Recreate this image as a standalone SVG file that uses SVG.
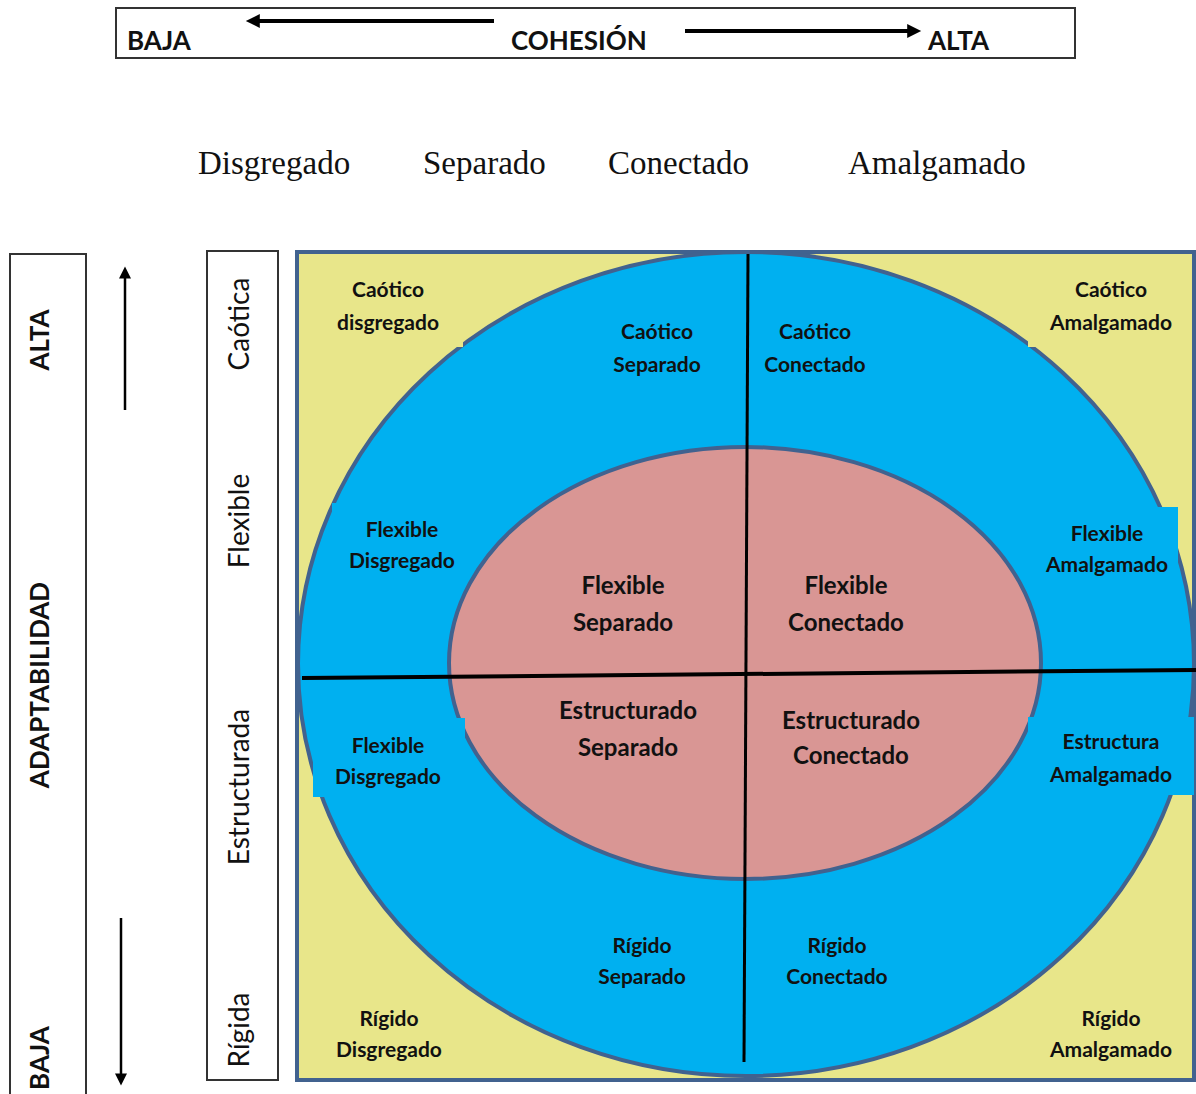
<svg xmlns="http://www.w3.org/2000/svg" width="1196" height="1094" viewBox="0 0 1196 1094">
<defs>
<style>
.lbl{font-family:Lato,"Open Sans","Liberation Sans",sans-serif;font-weight:bold;fill:#111;text-anchor:middle}
.s{font-size:21px}
.b{font-size:24px}
.hd{font-family:"Liberation Serif",serif;font-size:33px;fill:#111}
.ax{font-family:Lato,"Liberation Sans",sans-serif;font-weight:bold;font-size:26px;fill:#111}
.lv{font-family:Lato,"Open Sans","Liberation Sans",sans-serif;font-size:28px;fill:#111;text-anchor:middle}
.box{fill:#fff;stroke:#333;stroke-width:2}
.ar{stroke:#000;fill:none}
</style>
<marker id="ah" viewBox="0 0 10 10" refX="2" refY="5" markerWidth="16" markerHeight="14" markerUnits="userSpaceOnUse" orient="auto"><path d="M0,0 L10,5 L0,10 z" fill="#000"/></marker>
<marker id="ahs" viewBox="0 0 10 10" refX="2" refY="5" markerWidth="14" markerHeight="12" markerUnits="userSpaceOnUse" orient="auto"><path d="M0,0 L10,5 L0,10 z" fill="#000"/></marker>
</defs>

<g id="cohesion">
<rect class="box" x="116" y="8" width="959" height="50"/>
<text class="ax" x="127" y="50">BAJA</text>
<text class="ax" x="511" y="50">COHESIÓN</text>
<text class="ax" x="928" y="50">ALTA</text>
</g>

<g id="headers">
<text class="hd" x="198" y="174">Disgregado</text>
<text class="hd" x="423" y="174">Separado</text>
<text class="hd" x="608" y="174">Conectado</text>
<text class="hd" x="848" y="174">Amalgamado</text>
</g>

<g id="adaptabilidad">
<rect class="box" x="10" y="254" width="76" height="850"/>
<text class="ax" transform="translate(49,340) rotate(-90)" text-anchor="middle">ALTA</text>
<text class="ax" transform="translate(49,685) rotate(-90)" text-anchor="middle">ADAPTABILIDAD</text>
<text class="ax" transform="translate(49,1058) rotate(-90)" text-anchor="middle">BAJA</text>
</g>

<g id="levels">
<rect class="box" x="207" y="251" width="71" height="829"/>
<text class="lv" transform="translate(249,324) rotate(-90)">Caótica</text>
<text class="lv" transform="translate(249,521) rotate(-90)">Flexible</text>
<text class="lv" transform="translate(249,787) rotate(-90)">Estructurada</text>
<text class="lv" transform="translate(249,1030) rotate(-90)">Rígida</text>
</g>

<g id="model">
<rect x="297" y="252" width="897" height="828" fill="#e8e68a" stroke="#41628f" stroke-width="4"/>
<ellipse cx="746" cy="664" rx="448" ry="412" fill="#00b0f0" stroke="#41628f" stroke-width="4"/>
<ellipse cx="745" cy="663" rx="296" ry="216" fill="#d99694" stroke="#41628f" stroke-width="4"/>
<rect x="299" y="270" width="164" height="77" fill="#e8e68a"/>
<rect x="332" y="503" width="128" height="85" fill="#00b0f0"/>
<rect x="1028" y="270" width="164" height="77" fill="#e8e68a"/>
<rect x="1035" y="507" width="143" height="85" fill="#00b0f0"/>
<rect x="313" y="718" width="152" height="79" fill="#00b0f0"/>
<rect x="1028" y="717" width="166" height="78" fill="#00b0f0"/>
<rect x="1040" y="992" width="152" height="75" fill="#e8e68a"/>
<rect x="330" y="992" width="120" height="75" fill="#e8e68a"/>
</g>

<g id="connectors">
<line class="ar" x1="302" y1="678" x2="1196" y2="670" stroke-width="4"/>
<line class="ar" x1="748" y1="254" x2="744" y2="1062" stroke-width="3"/>
<line class="ar" x1="494" y1="21" x2="257" y2="21" stroke-width="4" marker-end="url(#ah)"/>
<line class="ar" x1="685" y1="31" x2="910" y2="31" stroke-width="4" marker-end="url(#ah)"/>
<line class="ar" x1="125" y1="410" x2="125" y2="276" stroke-width="2.5" marker-end="url(#ahs)"/>
<line class="ar" x1="121" y1="918" x2="121" y2="1076" stroke-width="2.5" marker-end="url(#ahs)"/>
</g>

<g id="n-caotico-disgregado"><text class="lbl s" x="388" y="297">Caótico</text><text class="lbl s" x="388" y="330">disgregado</text></g>
<g id="n-caotico-separado"><text class="lbl s" x="657" y="339">Caótico</text><text class="lbl s" x="657" y="372">Separado</text></g>
<g id="n-caotico-conectado"><text class="lbl s" x="815" y="339">Caótico</text><text class="lbl s" x="815" y="372">Conectado</text></g>
<g id="n-caotico-amalgamado"><text class="lbl s" x="1111" y="297">Caótico</text><text class="lbl s" x="1111" y="330">Amalgamado</text></g>
<g id="n-flexible-disgregado"><text class="lbl s" x="402" y="537">Flexible</text><text class="lbl s" x="402" y="568">Disgregado</text></g>
<g id="n-flexible-separado"><text class="lbl b" x="623" y="594">Flexible</text><text class="lbl b" x="623" y="631">Separado</text></g>
<g id="n-flexible-conectado"><text class="lbl b" x="846" y="594">Flexible</text><text class="lbl b" x="846" y="631">Conectado</text></g>
<g id="n-flexible-amalgamado"><text class="lbl s" x="1107" y="541">Flexible</text><text class="lbl s" x="1107" y="572">Amalgamado</text></g>
<g id="n-flexible-disgregado-2"><text class="lbl s" x="388" y="753">Flexible</text><text class="lbl s" x="388" y="784">Disgregado</text></g>
<g id="n-estructurado-separado"><text class="lbl b" x="628" y="719">Estructurado</text><text class="lbl b" x="628" y="756">Separado</text></g>
<g id="n-estructurado-conectado"><text class="lbl b" x="851" y="729">Estructurado</text><text class="lbl b" x="851" y="764">Conectado</text></g>
<g id="n-estructura-amalgamado"><text class="lbl s" x="1111" y="749">Estructura</text><text class="lbl s" x="1111" y="782">Amalgamado</text></g>
<g id="n-rigido-separado"><text class="lbl s" x="642" y="953">Rígido</text><text class="lbl s" x="642" y="984">Separado</text></g>
<g id="n-rigido-conectado"><text class="lbl s" x="837" y="953">Rígido</text><text class="lbl s" x="837" y="984">Conectado</text></g>
<g id="n-rigido-disgregado"><text class="lbl s" x="389" y="1026">Rígido</text><text class="lbl s" x="389" y="1057">Disgregado</text></g>
<g id="n-rigido-amalgamado"><text class="lbl s" x="1111" y="1026">Rígido</text><text class="lbl s" x="1111" y="1057">Amalgamado</text></g>
</svg>
